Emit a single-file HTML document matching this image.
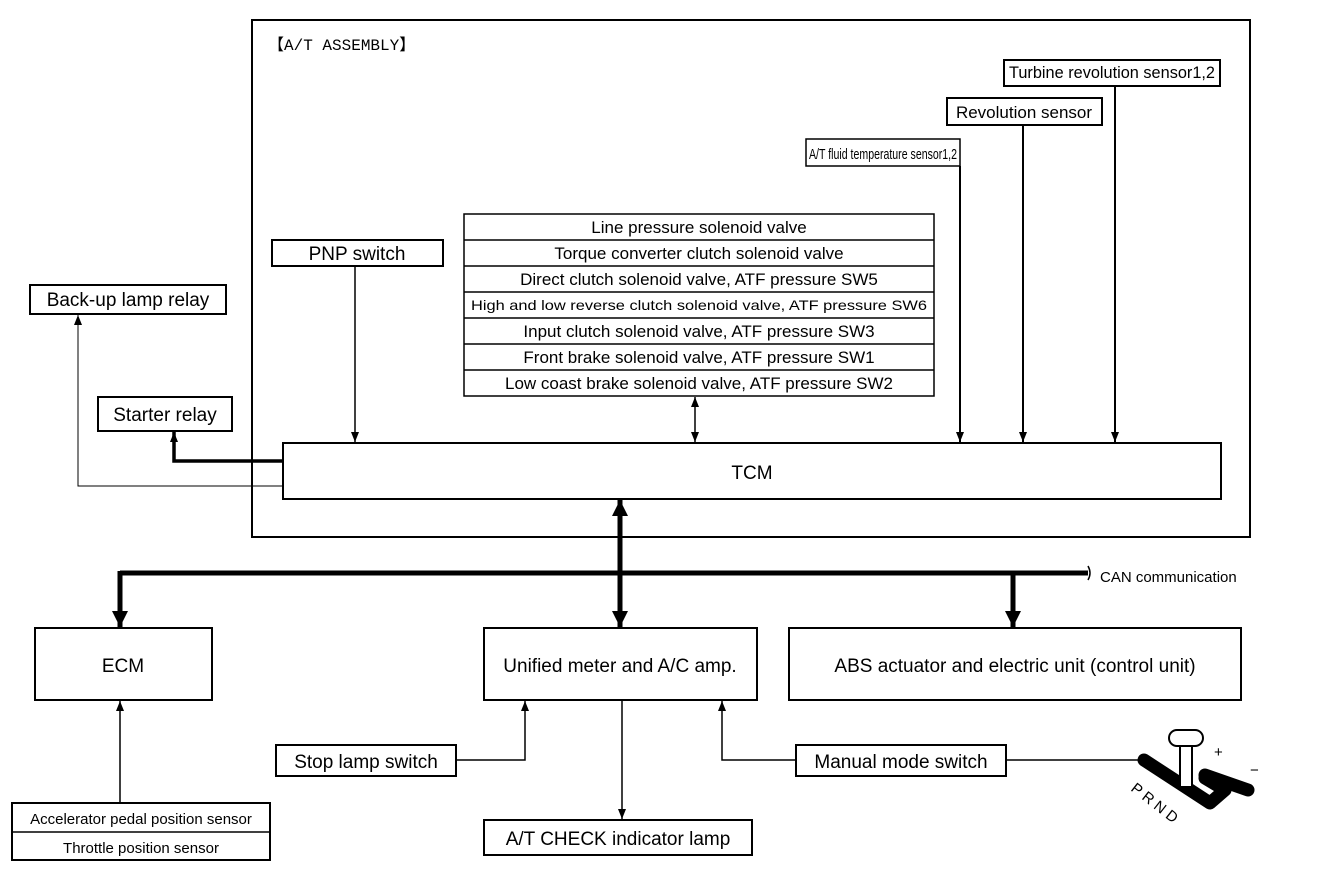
<!DOCTYPE html>
<html><head><meta charset="utf-8"><style>
html,body{margin:0;padding:0;background:#fff}
svg{display:block}
text{font-family:"Liberation Sans",Arial,sans-serif;fill:#000}
</style></head><body>
<svg width="1344" height="874" viewBox="0 0 1344 874" xmlns="http://www.w3.org/2000/svg">
<defs>
<marker id="a" markerWidth="10" markerHeight="8" refX="10" refY="4" orient="auto-start-reverse" markerUnits="userSpaceOnUse" viewBox="0 0 10 8"><path d="M0,0 L10,4 L0,8 z" fill="#000"/></marker>
<marker id="A" markerWidth="16" markerHeight="16" refX="16" refY="8" orient="auto-start-reverse" markerUnits="userSpaceOnUse" viewBox="0 0 16 16"><path d="M0,0 L16,8 L0,16 z" fill="#000"/></marker>
</defs>
<g fill="none" stroke="#000">
<rect x="252" y="20" width="998" height="517" stroke-width="2"/>
<rect x="1004" y="60" width="216" height="26" stroke-width="2"/>
<rect x="947" y="98" width="155" height="27" stroke-width="2"/>
<rect x="806" y="139" width="154" height="27" stroke-width="1.5"/>
<rect x="272" y="240" width="171" height="26" stroke-width="2"/>
<rect x="464" y="214" width="470" height="182" stroke-width="1.5"/>
<path d="M464,240H934M464,266H934M464,292H934M464,318H934M464,344H934M464,370H934" stroke-width="1.5"/>
<rect x="283" y="443" width="938" height="56" stroke-width="2"/>
<rect x="30" y="285" width="196" height="29" stroke-width="2"/>
<rect x="98" y="397" width="134" height="34" stroke-width="2"/>
<rect x="35" y="628" width="177" height="72" stroke-width="2"/>
<rect x="484" y="628" width="273" height="72" stroke-width="2"/>
<rect x="789" y="628" width="452" height="72" stroke-width="2"/>
<rect x="276" y="745" width="180" height="31" stroke-width="2"/>
<rect x="796" y="745" width="210" height="31" stroke-width="2"/>
<rect x="484" y="820" width="268" height="35" stroke-width="2"/>
<rect x="12" y="803" width="258" height="57" stroke-width="2"/>
<path d="M12,832H270" stroke-width="1.5"/>
<path d="M1115,86V442" stroke-width="2" marker-end="url(#a)"/>
<path d="M1023,125V442" stroke-width="2" marker-end="url(#a)"/>
<path d="M960,166V442" stroke-width="2" marker-end="url(#a)"/>
<path d="M355,266V442" stroke-width="1.5" marker-end="url(#a)"/>
<path d="M695,397V442" stroke-width="1.5" marker-start="url(#a)" marker-end="url(#a)"/>
<path d="M283,461H174V432" stroke-width="3.5" marker-end="url(#a)"/>
<path d="M283,486H78V315" stroke-width="1" marker-end="url(#a)"/>
<path d="M120,573H1088" stroke-width="5"/>
<path d="M620,500V627" stroke-width="5" marker-start="url(#A)" marker-end="url(#A)"/>
<path d="M120,571V627" stroke-width="5" marker-end="url(#A)"/>
<path d="M1013,575V627" stroke-width="5" marker-end="url(#A)"/>
<path d="M1088,566 Q1092,573 1088,580" stroke-width="1.5"/>
<path d="M456,760H525V701" stroke-width="1.5" marker-end="url(#a)"/>
<path d="M796,760H722V701" stroke-width="1.5" marker-end="url(#a)"/>
<path d="M1006,760H1140" stroke-width="1.5"/>
<path d="M622,700V819" stroke-width="1.5" marker-end="url(#a)"/>
<path d="M120,803V701" stroke-width="1.5" marker-end="url(#a)"/>
<path d="M1144,760 L1210,803 L1225,790 L1205,778" stroke-width="13" stroke-linecap="round" stroke-linejoin="round"/>
<path d="M1205,775 L1248,790" stroke-width="13" stroke-linecap="round"/>
<path d="M1180,745V787H1192V745" stroke-width="2" fill="#fff"/>
<rect x="1169" y="730" width="34" height="16" rx="8" stroke-width="2" fill="#fff"/>
</g>
<text x="268" y="50" font-size="16" style="font-family:'Liberation Mono',monospace">【A/T ASSEMBLY】</text>
<text x="1112" y="78" font-size="17" text-anchor="middle" textLength="206" lengthAdjust="spacingAndGlyphs">Turbine revolution sensor1,2</text>
<text x="1024" y="118" font-size="17" text-anchor="middle">Revolution sensor</text>
<text x="883" y="159" font-size="15" text-anchor="middle" textLength="148" lengthAdjust="spacingAndGlyphs">A/T fluid temperature sensor1,2</text>
<text x="357" y="260" font-size="19" text-anchor="middle">PNP switch</text>
<g font-size="17" text-anchor="middle">
<text x="699" y="233">Line pressure solenoid valve</text>
<text x="699" y="259">Torque converter clutch solenoid valve</text>
<text x="699" y="285">Direct clutch solenoid valve, ATF pressure SW5</text>
<text x="699" y="310" font-size="14" textLength="456" lengthAdjust="spacingAndGlyphs">High and low reverse clutch solenoid valve, ATF pressure SW6</text>
<text x="699" y="337">Input clutch solenoid valve,  ATF pressure SW3</text>
<text x="699" y="363">Front brake solenoid valve, ATF pressure SW1</text>
<text x="699" y="389">Low coast brake solenoid valve, ATF pressure SW2</text>
</g>
<text x="752" y="479" font-size="19" text-anchor="middle">TCM</text>
<text x="128" y="306" font-size="19" text-anchor="middle">Back-up lamp relay</text>
<text x="165" y="421" font-size="19" text-anchor="middle">Starter relay</text>
<text x="1100" y="582" font-size="15">CAN communication</text>
<text x="123" y="672" font-size="19" text-anchor="middle">ECM</text>
<text x="620" y="672" font-size="19" text-anchor="middle">Unified meter and A/C amp.</text>
<text x="1015" y="672" font-size="19" text-anchor="middle">ABS actuator and electric unit (control unit)</text>
<text x="366" y="768" font-size="19" text-anchor="middle">Stop lamp switch</text>
<text x="901" y="768" font-size="19" text-anchor="middle">Manual mode switch</text>
<text x="618" y="845" font-size="19" text-anchor="middle">A/T CHECK indicator lamp</text>
<text x="141" y="824" font-size="15" text-anchor="middle">Accelerator pedal position sensor</text>
<text x="141" y="853" font-size="15" text-anchor="middle">Throttle position sensor</text>
<g font-size="15" style="font-family:'Liberation Mono',monospace">
<text transform="translate(1130,790) rotate(38)">P R N D</text>
<text x="1214" y="757">+</text>
<text x="1250" y="775">−</text>
</g>
</svg>
</body></html>
